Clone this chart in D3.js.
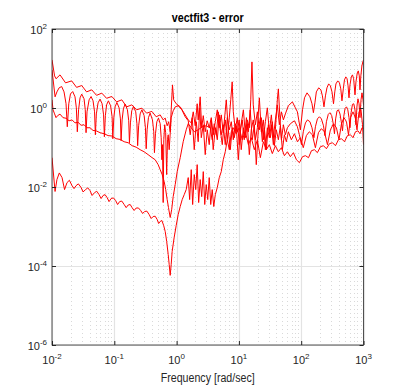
<!DOCTYPE html>
<html>
<head>
<script src="https://d3js.org/d3.v7.min.js"></script>
<style>
  body { margin: 0; background: #fff; }
  svg { font-family: "Liberation Sans", Arial, sans-serif; }
</style>
</head>
<body>
<script>
// error curves: [frequency rad/sec, |error|]
const errA = [[0.01,16.5],[0.011,6.5],[0.0116,5.5],[0.01345,6.9],[0.0165,4.33],[0.0207,4.86],[0.0248,3.33],[0.030,3.7],[0.0359,2.56],[0.0435,2.88],[0.0519,2.09],[0.063,2.38],[0.0752,1.76],[0.0912,1.96],[0.109,1.43],[0.132,1.61],[0.158,1.07],[0.191,1.2],[0.228,0.9],[0.277,0.99],[0.331,0.74],[0.401,0.82],[0.47,0.6],[0.545,0.67],[0.609,0.5],[0.656,0.556],[0.706,0.355],[0.746,0.45],[0.789,0.25],[0.819,0.9],[0.859,3.85],[0.897,1.61],[0.985,1.28],[1.143,1.07],[1.374,0.67],[1.537,0.5],[1.718,0.42],[1.85,0.8],[1.99,0.355],[2.14,1.28],[2.22,0.5],[2.39,1.92],[2.53,0.316],[2.68,0.64],[2.88,0.25],[3.1,0.475],[3.34,0.316],[3.6,0.57],[3.87,0.21],[4.18,0.45],[4.5,0.9],[4.84,0.316],[5.21,0.67],[5.61,0.237],[6.04,0.5],[6.51,0.157],[7.01,0.57],[7.4,1.61],[7.8,4.6],[8.13,0.8],[8.75,0.28],[9.43,0.57],[10.1,0.118],[10.9,0.4],[11.8,0.9],[12.7,0.21],[13.6,0.5],[14.7,0.316],[15.5,1.61],[16.2,14.7],[17.0,1.2],[18.4,0.377],[19.8,0.8],[21.3,0.28],[22.9,0.57],[24.7,0.157],[26.6,0.45],[28.6,1.01],[30.8,0.25],[33.2,0.67],[35.7,0.177],[38.5,0.5],[41.4,1.2],[44.6,0.377],[48.1,0.8],[51.8,0.5],[55.7,0.71],[62.2,1.14],[72.2,1.43],[80.7,1.01],[86.9,0.8],[97.1,0.28],[105,0.9],[113,1.81],[124,2.42],[138,1.92],[149,1.28],[157,0.76],[166,1.35],[175,2.56],[191,3.24],[207,2.88],[219,2.03],[232,1.07],[245,2.03],[259,3.24],[276,4.08],[294,3.64],[312,2.56],[330,1.28],[346,2.56],[361,4.08],[386,4.86],[411,4.33],[432,3.05],[451,1.52],[474,3.05],[495,5.15],[520,6.14],[545,5.5],[565,3.64],[585,1.81],[607,3.85],[637,6.14],[665,6.9],[695,5.5],[730,2.15],[757,4.6],[795,7.74],[825,8.7],[856,6.5],[878,2.88],[907,6.5],[942,11.6],[975,14.7],[1000,16.5]];

const errB = [[0.01,9.2],[0.0112,1.92],[0.012,2.56],[0.013,3.24],[0.0143,3.49],[0.0156,2.56],[0.0168,1.28],[0.0176,0.335],[0.0186,1.28],[0.0198,2.28],[0.0215,2.61],[0.0234,1.92],[0.0246,1.01],[0.0255,0.25],[0.0267,0.9],[0.0282,1.81],[0.03,2.24],[0.0327,1.71],[0.0342,0.9],[0.0352,0.237],[0.0365,0.8],[0.0394,1.61],[0.0424,1.95],[0.0456,1.52],[0.0482,0.8],[0.0497,0.21],[0.0515,0.71],[0.0549,1.35],[0.0591,1.68],[0.0637,1.28],[0.0673,0.67],[0.0693,0.1875],[0.0719,0.64],[0.0752,1.2],[0.0804,1.52],[0.0872,1.14],[0.0922,0.6],[0.0946,0.167],[0.0982,0.57],[0.103,1.07],[0.11,1.38],[0.1194,1.01],[0.1254,0.53],[0.1285,0.149],[0.1334,0.5],[0.14,0.955],[0.149,1.26],[0.1624,0.9],[0.1704,0.475],[0.175,0.132],[0.1815,0.42],[0.1905,0.85],[0.203,1.09],[0.2208,0.8],[0.2307,0.4],[0.237,0.111],[0.2459,0.355],[0.26,0.71],[0.277,0.9],[0.3013,0.64],[0.316,0.316],[0.325,0.093],[0.3366,0.28],[0.3532,0.57],[0.376,0.743],[0.41,0.5],[0.43,0.25],[0.441,0.074],[0.458,0.223],[0.482,0.45],[0.512,0.556],[0.545,0.4],[0.566,0.177],[0.58,0.049],[0.593,0.118],[0.609,0.00404],[0.623,0.157],[0.644,0.377],[0.668,0.237],[0.693,0.0206],[0.714,0.157],[0.733,0.21],[0.76,0.088],[0.819,0.57],[0.881,0.85],[0.95,1.07],[1.061,1.14],[1.216,0.9],[1.374,0.6],[1.537,0.475],[1.655,0.21],[1.782,0.57],[1.919,0.088],[2.07,0.45],[2.22,0.14],[2.35,1.01],[2.49,0.177],[2.68,0.377],[2.88,0.066],[3.1,0.28],[3.34,0.118],[3.6,0.5],[3.87,0.088],[4.18,0.316],[4.5,0.157],[4.84,0.67],[5.21,0.21],[5.61,0.377],[6.04,0.118],[6.51,0.57],[7.01,0.28],[7.55,0.45],[8.13,0.157],[8.75,0.4],[9.43,0.25],[10.1,0.5],[10.9,0.088],[11.8,0.316],[12.7,0.177],[13.6,0.4],[14.7,0.066],[15.8,0.28],[17.0,0.5],[18.4,0.157],[19.8,0.316],[21.3,1.81],[22.9,0.25],[24.7,0.5],[26.6,0.088],[28.6,0.316],[30.8,0.177],[33.2,0.377],[35.7,0.118],[38.5,0.28],[41.4,1.61],[43.0,3.05],[45.5,0.57],[48.1,0.157],[51.8,0.377],[55.7,0.21],[60.0,0.316],[67.0,0.4],[77.8,0.475],[86.9,0.335],[93.6,0.21],[101,0.118],[108,0.25],[117,0.42],[126,0.5],[138,0.45],[149,0.316],[160,0.177],[169,0.335],[182,0.53],[196,0.6],[211,0.53],[228,0.355],[240,0.2],[254,0.45],[272,0.69],[289,0.76],[309,0.64],[327,0.4],[342,0.223],[357,0.53],[376,0.85],[396,0.9],[419,0.71],[440,0.45],[460,0.265],[481,0.6],[506,0.98],[533,1.07],[560,0.9],[585,0.57],[607,0.316],[632,0.76],[665,1.24],[698,1.28],[730,0.9],[757,0.377],[786,1.14],[815,1.71],[849,1.28],[878,0.57],[912,1.61],[946,2.42],[982,1.61],[1000,1.2]];

const errC = [[0.01,1.61],[0.0104,0.9],[0.011,0.71],[0.0116,0.57],[0.0123,0.64],[0.01345,0.7],[0.015,0.57],[0.0168,0.55],[0.0188,0.475],[0.021,0.5],[0.0234,0.42],[0.0262,0.435],[0.0293,0.365],[0.0327,0.377],[0.0365,0.316],[0.0408,0.316],[0.0456,0.27],[0.051,0.265],[0.0591,0.237],[0.0686,0.223],[0.0795,0.2],[0.0922,0.195],[0.107,0.167],[0.124,0.16],[0.144,0.14],[0.167,0.132],[0.193,0.111],[0.224,0.102],[0.26,0.088],[0.301,0.078],[0.349,0.066],[0.405,0.0552],[0.453,0.049],[0.506,0.0368],[0.545,0.0275],[0.587,0.0206],[0.632,0.0137],[0.668,0.0086],[0.706,0.0048],[0.741,0.003],[0.789,0.00169],[0.834,0.0027],[0.881,0.0057],[0.95,0.0115],[1.022,0.0245],[1.143,0.0552],[1.276,0.14],[1.426,0.28],[1.537,0.4],[1.718,0.316],[1.92,0.25],[2.22,0.28],[2.58,0.335],[2.99,0.355],[3.47,0.316],[3.73,0.157],[4.02,0.4],[4.33,0.21],[4.67,0.8],[5.02,0.28],[5.41,0.118],[5.82,0.45],[6.27,1.61],[6.76,0.28],[7.28,0.088],[7.83,0.316],[8.43,0.177],[9.08,0.355],[9.78,0.049],[10.5,0.28],[11.3,0.5],[12.2,0.157],[13.2,0.57],[14.2,0.25],[15.2,0.9],[16.4,0.157],[17.7,0.377],[19.0,0.0368],[20.5,0.28],[22.1,0.57],[23.8,0.14],[25.6,0.316],[27.6,0.088],[29.7,0.377],[32.0,0.177],[34.4,0.45],[37.1,0.111],[39.9,0.28],[43.0,0.157],[46.3,0.355],[49.9,0.088],[53.7,0.21],[57.8,0.14],[62.2,0.25],[69.5,0.157],[77.8,0.223],[86.9,0.14],[97.1,0.177],[108,0.099],[121,0.2],[135,0.25],[151,0.21],[169,0.099],[189,0.237],[211,0.3],[236,0.25],[264,0.118],[294,0.28],[330,0.4],[368,0.316],[404,0.157],[443,0.4],[486,0.57],[533,0.45],[574,0.21],[618,0.57],[678,0.8],[738,0.57],[786,0.28],[847,0.8],[912,0.9],[964,0.377],[1000,0.118]];

const errD = [[0.01,0.0552],[0.0112,0.0077],[0.012,0.0154],[0.0131,0.0227],[0.0145,0.0173],[0.0159,0.0086],[0.0174,0.0129],[0.019,0.0148],[0.021,0.0108],[0.0226,0.0091],[0.0243,0.0108],[0.0265,0.012],[0.0293,0.0097],[0.0315,0.0075],[0.0346,0.0086],[0.0375,0.0095],[0.0408,0.0081],[0.044,0.0061],[0.0482,0.0072],[0.0523,0.0078],[0.057,0.0064],[0.0614,0.0051],[0.0661,0.0061],[0.0711,0.0064],[0.0766,0.0054],[0.0825,0.00428],[0.0889,0.0051],[0.0967,0.0053],[0.105,0.00454],[0.113,0.0036],[0.122,0.00428],[0.132,0.0044],[0.144,0.0036],[0.155,0.003],[0.167,0.0035],[0.18,0.0036],[0.193,0.003],[0.208,0.00254],[0.224,0.00293],[0.244,0.00295],[0.265,0.00254],[0.285,0.00213],[0.307,0.0024],[0.333,0.00245],[0.363,0.002],[0.391,0.00159],[0.42,0.00179],[0.453,0.00182],[0.488,0.0015],[0.515,0.00119],[0.545,0.00134],[0.58,0.00142],[0.62,0.00106],[0.656,0.00075],[0.693,0.00042],[0.733,0.000196],[0.76,0.00011],[0.789,0.000058],[0.819,0.00011],[0.849,0.000234],[0.914,0.000527],[0.985,0.00106],[1.061,0.002],[1.143,0.0032],[1.23,0.0048],[1.325,0.0064],[1.426,0.0086],[1.537,0.0173],[1.62,0.0048],[1.718,0.0275],[1.81,0.0036],[1.92,0.0206],[2.03,0.0086],[2.14,0.0368],[2.26,0.00404],[2.39,0.0154],[2.53,0.0057],[2.68,0.0245],[2.83,0.0036],[2.99,0.0115],[3.16,0.0048],[3.34,0.0173],[3.53,0.0036],[3.73,0.0086],[3.95,0.0032],[4.18,0.0064],[4.5,0.0097],[4.84,0.0173],[5.21,0.0245],[5.61,0.049],[6.04,0.078],[6.51,0.157],[7.01,0.088],[7.55,0.25],[8.13,0.316],[9.08,0.223],[10.1,0.316],[11.3,0.157],[12.7,0.25],[14.2,0.118],[15.8,0.177],[17.7,0.088],[19.8,0.157],[22.1,0.0552],[24.7,0.14],[27.6,0.088],[30.8,0.118],[34.4,0.07],[38.5,0.111],[43.0,0.078],[48.1,0.099],[53.7,0.062],[60.0,0.078],[67.0,0.0586],[75.0,0.074],[83.8,0.049],[93.6,0.0413],[105,0.0586],[117,0.062],[131,0.0552],[146,0.083],[163,0.088],[182,0.074],[204,0.105],[228,0.111],[254,0.093],[284,0.125],[318,0.132],[355,0.111],[396,0.157],[443,0.167],[495,0.14],[553,0.2],[618,0.21],[678,0.177],[743,0.25],[815,0.265],[878,0.223],[946,0.316],[1000,0.3]];

const xTicks = [1e-2, 1e-1, 1, 10, 100, 1000];
const xTickExp = ["-2", "-1", "0", "1", "2", "3"];
const yTicks = [1e-6, 1e-4, 1e-2, 1, 100];
const yTickExp = ["-6", "-4", "-2", "0", "2"];

const width = 402;
const height = 388;
const plotLeft = 52, plotRight = 363.5, plotTop = 29, plotBottom = 345;

const svg = d3.select("body")
  .append("svg")
  .attr("width", width)
  .attr("height", height);

const x = d3.scaleLog().domain([1e-2, 1e3]).range([plotLeft, plotRight]);
const y = d3.scaleLog().domain([1e-6, 1e2]).range([plotBottom, plotTop]);

// minor x grid (2..9 within each decade)
const minorX = [];
xTicks.slice(0, -1).forEach(d => {
  for (let k = 2; k <= 9; k++) minorX.push(d * k);
});

svg.append("g")
  .selectAll("line")
  .data(minorX)
  .join("line")
  .attr("x1", d => Math.round(x(d)) + 0.5)
  .attr("x2", d => Math.round(x(d)) + 0.5)
  .attr("y1", plotTop)
  .attr("y2", plotBottom)
  .attr("stroke", "#cfcfcf")
  .attr("stroke-width", 0.8)
  .attr("stroke-dasharray", "1,3");

// major grid
svg.append("g")
  .selectAll("line")
  .data(xTicks)
  .join("line")
  .attr("x1", d => Math.round(x(d)) + 0.5)
  .attr("x2", d => Math.round(x(d)) + 0.5)
  .attr("y1", plotTop)
  .attr("y2", plotBottom)
  .attr("stroke", "#e3e3e3")
  .attr("stroke-width", 1.2);

svg.append("g")
  .selectAll("line")
  .data(yTicks)
  .join("line")
  .attr("x1", plotLeft)
  .attr("x2", plotRight)
  .attr("y1", d => Math.round(y(d)) + 0.5)
  .attr("y2", d => Math.round(y(d)) + 0.5)
  .attr("stroke", "#e3e3e3")
  .attr("stroke-width", 1.2);

// curves
svg.append("clipPath")
  .attr("id", "clip")
  .append("rect")
  .attr("x", plotLeft)
  .attr("y", plotTop)
  .attr("width", plotRight - plotLeft)
  .attr("height", plotBottom - plotTop);

const line = d3.line()
  .x(d => x(d[0]))
  .y(d => y(d[1]));

svg.append("g")
  .attr("clip-path", "url(#clip)")
  .selectAll("path")
  .data([errA, errB, errC, errD])
  .join("path")
  .attr("d", line)
  .attr("fill", "none")
  .attr("stroke", "#ff0000")
  .attr("stroke-width", 1)
  .attr("stroke-linejoin", "round");

// axes box with inward ticks
const axisColor = "#262626";

svg.append("g")
  .attr("transform", `translate(0,${plotBottom})`)
  .call(d3.axisTop(x).tickValues(xTicks).tickSize(4).tickFormat(""))
  .call(g => g.select(".domain").remove());

svg.append("g")
  .attr("transform", `translate(0,${plotTop})`)
  .call(d3.axisBottom(x).tickValues(xTicks).tickSize(4).tickFormat(""))
  .call(g => g.select(".domain").remove());

svg.append("g")
  .attr("transform", `translate(${plotLeft},0)`)
  .call(d3.axisRight(y).tickValues(yTicks).tickSize(4).tickFormat(""))
  .call(g => g.select(".domain").remove());

svg.append("g")
  .attr("transform", `translate(${plotRight},0)`)
  .call(d3.axisLeft(y).tickValues(yTicks).tickSize(4).tickFormat(""))
  .call(g => g.select(".domain").remove());

svg.selectAll(".tick line").attr("stroke", axisColor);

svg.append("rect")
  .attr("x", plotLeft)
  .attr("y", plotTop)
  .attr("width", plotRight - plotLeft)
  .attr("height", plotBottom - plotTop)
  .attr("fill", "none")
  .attr("stroke", axisColor)
  .attr("stroke-width", 0.8);

// tick labels 10^n
const xLab = svg.append("g")
  .selectAll("text")
  .data(xTicks)
  .join("text")
  .attr("x", d => x(d))
  .attr("y", 364)
  .attr("text-anchor", "middle")
  .attr("font-size", 11)
  .attr("fill", axisColor);
xLab.append("tspan").text("10");
xLab.append("tspan")
  .attr("dy", -5)
  .attr("font-size", 8)
  .text((d, i) => xTickExp[i]);

const yLab = svg.append("g")
  .selectAll("text")
  .data(yTicks)
  .join("text")
  .attr("x", plotLeft - 5)
  .attr("y", d => y(d) + 5)
  .attr("text-anchor", "end")
  .attr("font-size", 11)
  .attr("fill", axisColor);
yLab.append("tspan").text("10");
yLab.append("tspan")
  .attr("dy", -5)
  .attr("font-size", 8)
  .text((d, i) => yTickExp[i]);

svg.append("text")
  .attr("x", (plotLeft + plotRight) / 2)
  .attr("y", 22)
  .attr("text-anchor", "middle")
  .attr("font-size", 12.5)
  .attr("font-weight", "bold")
  .attr("fill", "#000")
  .attr("textLength", 72)
  .attr("lengthAdjust", "spacingAndGlyphs")
  .text("vectfit3 - error");

svg.append("text")
  .attr("x", (plotLeft + plotRight) / 2)
  .attr("y", 382)
  .attr("text-anchor", "middle")
  .attr("font-size", 12.5)
  .attr("fill", axisColor)
  .attr("textLength", 94)
  .attr("lengthAdjust", "spacingAndGlyphs")
  .text("Frequency [rad/sec]");
</script>
</body>
</html>
